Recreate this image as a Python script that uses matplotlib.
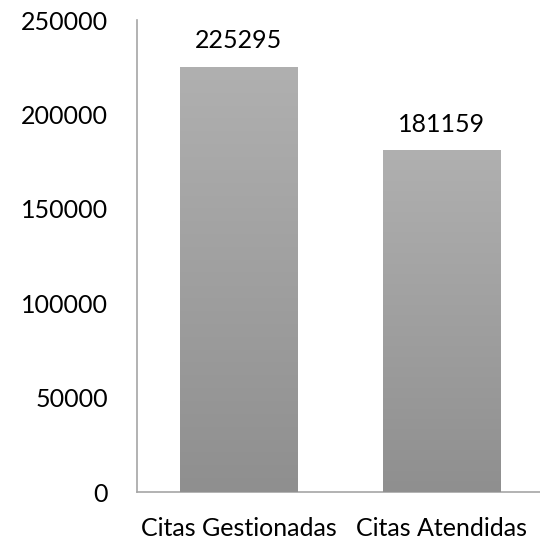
import numpy as np
import matplotlib
matplotlib.use("Agg")
from matplotlib import pyplot as plt

categories = ["Citas Gestionadas", "Citas Atendidas"]
values = [225295, 181159]
yticks = [0, 50000, 100000, 150000, 200000, 250000]

plt.rcParams['font.family'] = ['Lato', 'DejaVu Sans']

fig = plt.figure(figsize=(5.4, 5.45), dpi=100)
ax = fig.add_axes([137/540, 53/545, 406/540, 472/545])

x = np.arange(len(categories))
bars = ax.bar(x, values, width=0.58, color="#a0a0a0", zorder=2)

# vertical gray gradient inside each bar
grad = np.linspace(0, 1, 256).reshape(-1, 1)
cmap = matplotlib.colors.LinearSegmentedColormap.from_list("g", ["#8f8f8f", "#b0b0b0"])
for b in bars:
    x0, y0 = b.get_x(), b.get_y()
    w, h = b.get_width(), b.get_height()
    im = ax.imshow(grad, cmap=cmap, extent=[x0, x0 + w, y0, y0 + h],
                   origin="lower", aspect="auto", zorder=3)
    im.set_clip_path(b)

for xi, v in zip(x, values):
    ax.text(xi, v + 7500, str(v), ha="center", va="bottom", fontsize=18)

ax.set_xlim(-0.5, 1.5)
ax.set_ylim(0, 250000)
ax.set_yticks(yticks)
ax.set_yticklabels([str(t) for t in yticks], fontsize=18)
ax.set_xticks(x)
ax.set_xticklabels(categories, fontsize=18)
ax.tick_params(axis="y", length=0, pad=21)
ax.tick_params(axis="x", length=0, pad=18)
for s in ["top", "right"]:
    ax.spines[s].set_visible(False)
for s in ["left", "bottom"]:
    ax.spines[s].set_color("#a6a6a6")
    ax.spines[s].set_linewidth(1.2)

fig.savefig("out.png", dpi=100)
